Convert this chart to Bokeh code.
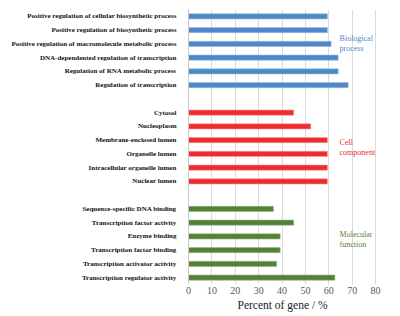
from bokeh.plotting import figure
from bokeh.models import FixedTicker, Range1d, Label, ColumnDataSource, Title
from bokeh.embed import file_html
from bokeh.resources import INLINE

bio_terms = [
    "Positive regulation of cellular biosynthetic process",
    "Positive regulation of biosynthetic process",
    "Positive regulation of macromolecule metabolic process",
    "DNA-dependented regulation of transcription",
    "Regulation of RNA metabolic process",
    "Regulation of transcription",
]
bio_values = [59.4, 59.4, 61.0, 64.0, 64.0, 68.3]

cell_terms = [
    "Cytosol",
    "Nucleoplasm",
    "Membrane-enclosed lumen",
    "Organelle lumen",
    "Intracellular organelle lumen",
    "Nuclear lumen",
]
cell_values = [45.0, 52.3, 59.4, 59.4, 59.4, 59.4]

mol_terms = [
    "Sequence-specific DNA binding",
    "Transcription factor activity",
    "Enzyme binding",
    "Transcription factor binding",
    "Transcription activator activity",
    "Transcription regulator activity",
]
mol_values = [36.3, 45.0, 39.2, 39.2, 37.7, 62.6]

group_names = ["Biological\nprocess", "Cell\ncomponent", "Molecular\nfunction"]
group_colors = ["#4F88C6", "#EE2B2E", "#548235"]
group_edge = ["#9DBFE3", "#F7A0A2", "#9CB98A"]
x_ticks = [0, 10, 20, 30, 40, 50, 60, 70, 80]
x_title = "Percent of gene / %"

groups = [(bio_terms, bio_values), (cell_terms, cell_values), (mol_terms, mol_values)]

SERIF = "Liberation Serif"

p = figure(width=400, height=316, output_backend="svg", toolbar_location=None,
           x_range=Range1d(0, 89.8), y_range=Range1d(19.5, -0.5),
           min_border_left=188, min_border_right=2, min_border_top=9, min_border_bottom=32)
p.outline_line_color = None
p.background_fill_color = "white"

overrides = {}
ticks = []
slot = 0
label_slots = []
for gi, (terms, vals) in enumerate(groups):
    ys = list(range(slot, slot + len(terms)))
    src = ColumnDataSource(dict(y=ys, right=vals))
    p.hbar(y="y", right="right", left=0, height=0.38, source=src,
           fill_color=group_colors[gi], line_color=group_edge[gi], line_width=0.6)
    for y, t in zip(ys, terms):
        overrides[y] = t
        ticks.append(y)
    label_slots.append(slot + (len(terms) - 1) / 2)
    slot += len(terms) + 1

label_dy = [-0.55, 0.05, -0.3]
for gi, name in enumerate(group_names):
    p.add_layout(Label(x=64.6, y=label_slots[gi] + label_dy[gi], text=name,
                       text_font=SERIF, text_font_size="8px",
                       text_color=group_colors[gi], text_baseline="middle",
                       text_line_height=1.1))

p.yaxis.ticker = FixedTicker(ticks=ticks)
p.yaxis.major_label_overrides = overrides
p.yaxis.major_label_text_font = SERIF
p.yaxis.major_label_text_font_style = "bold"
p.yaxis.major_label_text_font_size = "7px"
p.yaxis.major_label_text_color = "#111111"
p.yaxis.major_tick_line_color = None
p.yaxis.minor_tick_line_color = None
p.yaxis.axis_line_color = "#C8C8C8"
p.yaxis.major_label_standoff = 6

p.xaxis.ticker = FixedTicker(ticks=x_ticks)
p.xaxis.major_label_text_font = SERIF
p.xaxis.major_label_text_font_size = "10px"
p.xaxis.major_label_text_color = "#595959"
p.xaxis.major_tick_line_color = None
p.xaxis.minor_tick_line_color = None
p.xaxis.major_tick_out = 0
p.xaxis.minor_tick_out = 0
p.xaxis.axis_line_color = None
p.xaxis.major_label_standoff = 2

p.add_layout(Title(text=x_title, align="left", offset=49, standoff=0,
                   text_font=SERIF, text_font_style="normal", text_font_size="11.5px",
                   text_color="#222222"), "below")

p.xgrid.grid_line_color = "#DADADA"
p.ygrid.grid_line_color = None

open("out.html", "w").write(file_html(p, INLINE))
